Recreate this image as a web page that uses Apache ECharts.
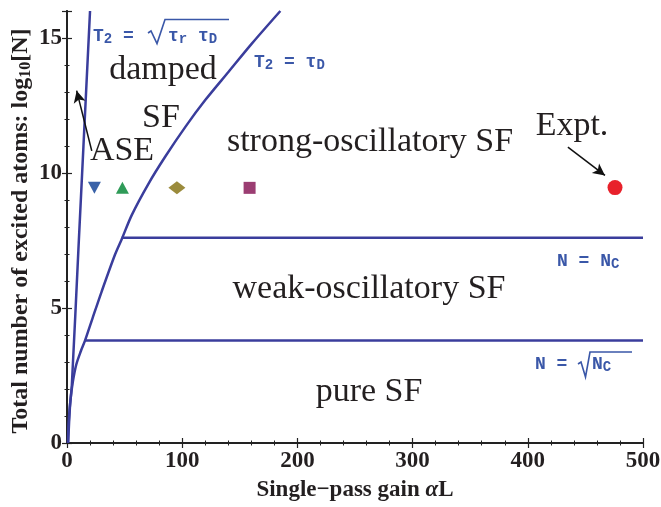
<!DOCTYPE html>
<html>
<head>
<meta charset="utf-8">
<script src="https://cdn.jsdelivr.net/npm/echarts@6/dist/echarts.min.js"></script>
<style>
  html, body { margin: 0; padding: 0; background: #fff; }
  #chart { width: 661px; height: 507px; }
</style>
</head>
<body>
<div id="chart"></div>
<script>
// boundary T2 = sqrt(tau_r tau_D)
var steepX = [1, 2.5, 4.2, 9.9, 20];
var steepY = [0, 1.3, 2.15, 7.16, 16];
// boundary T2 = tau_D
var curveX = [0.8, 1.5, 3, 5, 8, 12, 15.7, 22, 30, 41.7, 47.5, 56.3, 70.7, 85.2, 102.6, 120, 140.3, 160.6, 185.2];
var curveY = [0, 0.8, 1.6, 2.25, 2.9, 3.4, 3.8, 4.6, 5.6, 6.98, 7.55, 8.45, 9.6, 10.6, 11.7, 12.7, 13.75, 14.8, 16];
// N = Nc and N = sqrt(Nc)
var ncX = [47.5, 500];
var ncY = [7.6, 7.6];
var sqrtNcX = [15.7, 500];
var sqrtNcY = [3.8, 3.8];
// markers
var markerX = [23.8, 48.1, 95.4, 158.5];
var markerY = [9.45, 9.45, 9.45, 9.45];
var exptX = [475.7];
var exptY = [9.46];
// arrows [from, to]
var aseArrow = [[21.5, 10.82], [8.4, 13.05]];
var exptArrow = [[434.8, 10.96], [467, 9.91]];

var xTicks = [0, 100, 200, 300, 400, 500];
var yTicks = [0, 5, 10, 15];

var lineColor = '#3a3d9c';
var labelBlue = '#3a57a8';
var ink = '#231f20';
var times = '"Liberation Serif", "Times New Roman", serif';
var M18 = 'bold 18px "Liberation Mono", "Courier New", monospace';
var M14 = 'bold 14px "Liberation Mono", "Courier New", monospace';
var B23 = 'bold 23px "Liberation Serif", "Times New Roman", serif';
var BI23 = 'italic bold 23px "Liberation Serif", "Times New Roman", serif';
var B24 = 'bold 24px "Liberation Serif", "Times New Roman", serif';
var B16 = 'bold 16px "Liberation Serif", "Times New Roman", serif';

function zip(a, b) {
  return a.map(function (v, i) { return [v, b[i]]; });
}

var measureCtx = document.createElement('canvas').getContext('2d');
// lay text pieces out in a row (for subscripts)
function row(pieces, fill) {
  var x = 0;
  var children = pieces.map(function (p) {
    measureCtx.font = p.font;
    var el = {
      type: 'text', x: x, y: p.dy || 0, silent: true, z: 10,
      style: { text: p.t, font: p.font, fill: fill, textAlign: 'left', textVerticalAlign: 'middle' }
    };
    x += measureCtx.measureText(p.t).width;
    return el;
  });
  return { children: children, width: x };
}

function group(x, y, pieces, fill, rotation, center) {
  var r = row(pieces, fill);
  var off = center ? -r.width / 2 : 0;
  r.children.forEach(function (c) { c.x += off; });
  return { type: 'group', x: x, y: y, rotation: rotation || 0, silent: true, z: 10, children: r.children };
}

var chart = echarts.init(document.getElementById('chart'));

var axisBase = {
  axisLine: { show: true, lineStyle: { color: '#222', width: 1.8 } },
  axisTick: { show: true, inside: true, length: 5, lineStyle: { color: '#222', width: 1.2 } },
  minorTick: { show: true, splitNumber: 5, length: 2.5, lineStyle: { color: '#222', width: 1 } },
  splitLine: { show: false }
};

function lineSeries(data) {
  return {
    type: 'line',
    data: data,
    showSymbol: false,
    smooth: 0.3,
    silent: true,
    lineStyle: { color: lineColor, width: 2.5 },
    z: 3
  };
}

var markerSyms = ['triangle', 'triangle', 'diamond', 'rect'];
var markerRot = [180, 0, 0, 0];
var markerSize = [[13, 12], [13, 12], [17, 13], [12, 12]];
var markerCol = ['#3a62a8', '#2f9b58', '#9b8b3c', '#9b3d72'];

var series = [
  lineSeries(zip(steepX, steepY)),
  lineSeries(zip(curveX, curveY)),
  lineSeries(zip(ncX, ncY)),
  lineSeries(zip(sqrtNcX, sqrtNcY))
];
markerX.forEach(function (x, i) {
  series.push({
    type: 'scatter',
    data: [[x, markerY[i]]],
    symbol: markerSyms[i],
    symbolRotate: markerRot[i],
    symbolSize: markerSize[i],
    itemStyle: { color: markerCol[i], opacity: 1 },
    z: 4
  });
});
series.push({
  type: 'scatter',
  data: zip(exptX, exptY),
  symbol: 'circle',
  symbolSize: 15,
  itemStyle: { color: '#e8212b', opacity: 1 },
  z: 4,
  markLine: {
    silent: true,
    symbol: ['none', 'arrow'],
    symbolSize: [9, 12],
    label: { show: false },
    lineStyle: { color: '#111', width: 1.5, type: 'solid' },
    data: [
      [{ coord: aseArrow[0] }, { coord: aseArrow[1] }],
      [{ coord: exptArrow[0] }, { coord: exptArrow[1] }]
    ]
  }
});

function regionText(x, y, t) {
  return {
    type: 'text', x: x, y: y, z: 10, silent: true,
    style: { text: t, font: '34px ' + times, fill: ink, textAlign: 'center', textVerticalAlign: 'middle' }
  };
}

function radical(points) {
  return {
    type: 'polyline', silent: true, z: 10,
    shape: { points: points },
    style: { stroke: labelBlue, lineWidth: 1.6, fill: null, lineJoin: 'miter' }
  };
}

var graphics = [
  regionText(163, 70, 'damped'),
  regionText(161, 118, 'SF'),
  regionText(122, 151, 'ASE'),
  regionText(370, 142, 'strong-oscillatory SF'),
  regionText(572, 126, 'Expt.'),
  regionText(369, 289, 'weak-oscillatory SF'),
  regionText(369, 392, 'pure SF'),
  // T2 = sqrt(tau_r tau_D)
  group(93, 36, [{ t: 'T', font: M18 }, { t: '2', font: M14, dy: 3 }, { t: ' =', font: M18 }], labelBlue),
  radical([[148, 33], [151, 31], [157, 43.5], [165, 19.5], [229, 19.5]]),
  group(168, 36, [{ t: 'τ', font: M18 }, { t: 'r', font: M14, dy: 3 }, { t: ' τ', font: M18 }, { t: 'D', font: M14, dy: 3 }], labelBlue),
  // T2 = tau_D
  group(254, 62, [{ t: 'T', font: M18 }, { t: '2', font: M14, dy: 3 }, { t: ' = τ', font: M18 }, { t: 'D', font: M14, dy: 3 }], labelBlue),
  // N = Nc
  group(557, 261, [{ t: 'N = N', font: M18 }, { t: 'C', font: M14, dy: 3 }], labelBlue),
  // N = sqrt(Nc)
  group(535, 364, [{ t: 'N =', font: M18 }], labelBlue),
  radical([[578, 364], [581, 362], [585.5, 377], [590, 352], [632, 352]]),
  group(592, 364, [{ t: 'N', font: M18 }, { t: 'C', font: M14, dy: 3 }], labelBlue),
  // axis names
  group(355, 490, [{ t: 'Single−pass gain ', font: B23 }, { t: 'α', font: BI23 }, { t: 'L', font: B23 }], ink, 0, true),
  group(21, 231, [{ t: 'Total number of excited atoms: log', font: B24 }, { t: '10', font: B16, dy: 5 }, { t: '[N]', font: B24 }], ink, Math.PI / 2, true)
];

var option = {
  backgroundColor: '#fff',
  animation: false,
  grid: { left: 67, right: 18, top: 11, bottom: 64, containLabel: false, outerBoundsMode: 'none' },
  xAxis: [
    Object.assign({}, axisBase, {
      type: 'value', min: 0, max: 500, interval: 100, position: 'bottom',
      axisLabel: {
        margin: 7, color: ink, fontFamily: times, fontWeight: 'bold', fontSize: 23,
        formatter: function (v) { return xTicks.indexOf(v) >= 0 ? String(v) : ''; }
      }
    }),
    Object.assign({}, axisBase, {
      type: 'value', min: 0, max: 500, interval: 100, position: 'top',
      axisLabel: { show: false }
    })
  ],
  yAxis: [
    Object.assign({}, axisBase, {
      type: 'value', min: 0, max: 16, interval: 5, position: 'left',
      axisLabel: {
        margin: 5, color: ink, fontFamily: times, fontWeight: 'bold', fontSize: 23,
        showMaxLabel: false,
        formatter: function (v) { return yTicks.indexOf(v) >= 0 ? String(v) : ''; }
      }
    }),
    Object.assign({}, axisBase, {
      type: 'value', min: 0, max: 16, interval: 5, position: 'right',
      axisLabel: { show: false }
    })
  ],
  series: series,
  graphic: graphics
};

chart.setOption(option);
</script>
</body>
</html>
